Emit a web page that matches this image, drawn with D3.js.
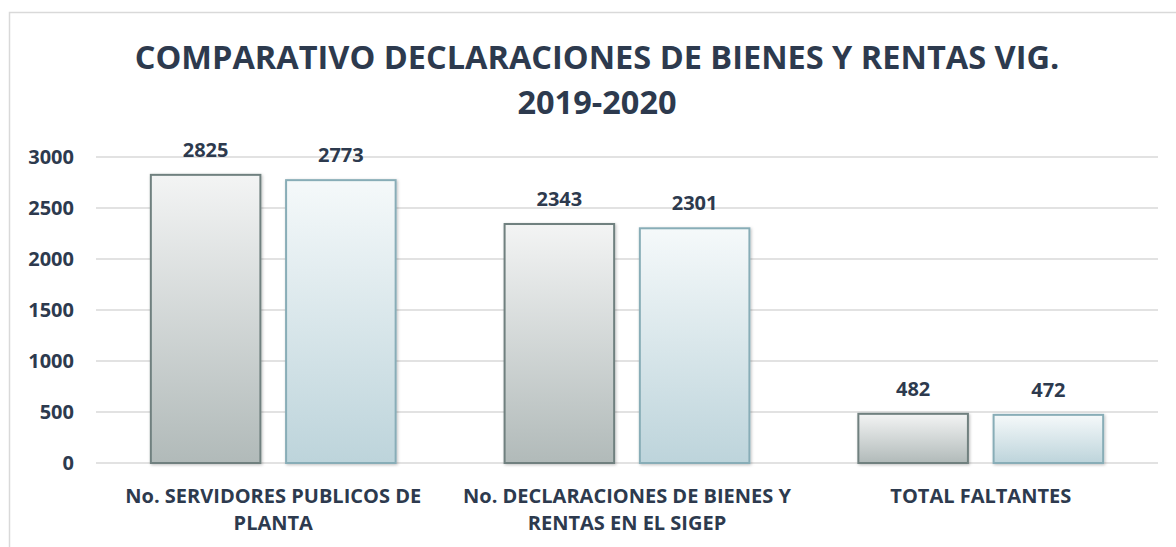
<!DOCTYPE html>
<html>
<head>
<meta charset="utf-8">
<script src="https://cdn.jsdelivr.net/npm/d3@7"></script>
<style>
  body { margin: 0; background: #fff; }
  svg text { font-family: "Open Sans", sans-serif; font-weight: bold; fill: #2d3a4e; }
</style>
</head>
<body>
<svg width="1176" height="547"></svg>
<script>
var svg = d3.select('svg');

// data
var categories = [['No. SERVIDORES PUBLICOS DE', 'PLANTA'],
                  ['No. DECLARACIONES DE BIENES Y', 'RENTAS EN EL SIGEP'],
                  ['TOTAL FALTANTES']];
var years = ['2019', '2020'];
var values2019 = [2825, 2343, 482];
var values2020 = [2773, 2301, 472];
var yTicks = [0, 500, 1000, 1500, 2000, 2500, 3000];
var titleLines = ['COMPARATIVO DECLARACIONES DE BIENES Y RENTAS VIG.', '2019-2020'];

var rows = categories.map(function(c, i) {
    return {label: c, vals: [values2019[i], values2020[i]]};
});

var plot = {l: 96, r: 1158, t: 157, b: 463};

// chart frame
svg.append('rect')
    .attr('x', 9.5).attr('y', 12.5)
    .attr('width', 1200).attr('height', 600)
    .attr('fill', 'none').attr('stroke', '#d9d9d9').attr('stroke-width', 1.5);

var defs = svg.append('defs');
var grads = [['g0', '#f3f4f4', '#b1bab9'], ['g1', '#f5f9fa', '#bdd4db']];
grads.forEach(function(g) {
    var lg = defs.append('linearGradient').attr('id', g[0])
        .attr('x1', 0).attr('y1', 0).attr('x2', 0).attr('y2', 1);
    lg.append('stop').attr('offset', '0%').attr('stop-color', g[1]);
    lg.append('stop').attr('offset', '100%').attr('stop-color', g[2]);
});
var shadow = defs.append('filter').attr('id', 'sh').attr('x', '-10%').attr('y', '-10%')
    .attr('width', '130%').attr('height', '130%');
shadow.append('feDropShadow').attr('dx', 1).attr('dy', 1).attr('stdDeviation', 1.5)
    .attr('flood-color', '#000').attr('flood-opacity', 0.25);

var x0 = d3.scaleBand().domain(d3.range(rows.length))
    .range([plot.l, plot.r]).paddingInner(0.308).paddingOuter(0.155);
var x1 = d3.scaleBand().domain(d3.range(years.length))
    .range([0, x0.bandwidth()]).paddingInner(0.19);
var y = d3.scaleLinear().domain([0, 3000]).range([plot.b, plot.t]);

// gridlines
svg.append('g').selectAll('line')
    .data(yTicks).enter().append('line')
    .attr('x1', plot.l).attr('x2', plot.r)
    .attr('y1', function(d) { return y(d); })
    .attr('y2', function(d) { return y(d); })
    .attr('stroke', '#d9d9d9').attr('stroke-width', 1.5);

// y axis labels
svg.append('g').selectAll('text')
    .data(yTicks).enter().append('text')
    .attr('x', 74).attr('y', function(d) { return y(d) + 7; })
    .attr('text-anchor', 'end')
    .style('font-size', '20px')
    .text(function(d) { return d; });

var strokes = ['#6f807f', '#88adb7'];

var groups = svg.append('g').selectAll('g')
    .data(rows).enter().append('g')
    .attr('transform', function(d, i) { return 'translate(' + x0(i) + ',0)'; });

groups.selectAll('rect')
    .data(function(d) { return d.vals; })
    .enter().append('rect')
    .attr('x', function(d, i) { return x1(i); })
    .attr('y', function(d) { return y(d); })
    .attr('width', x1.bandwidth())
    .attr('height', function(d) { return y(0) - y(d); })
    .attr('fill', function(d, i) { return 'url(#g' + i + ')'; })
    .attr('stroke', function(d, i) { return strokes[i]; })
    .attr('stroke-width', 2)
    .attr('filter', 'url(#sh)');

groups.selectAll('.val')
    .data(function(d) { return d.vals; })
    .enter().append('text')
    .attr('class', 'val')
    .attr('x', function(d, i) { return x1(i) + x1.bandwidth() / 2; })
    .attr('y', function(d) { return y(d) - 18; })
    .attr('text-anchor', 'middle')
    .style('font-size', '20px')
    .text(function(d) { return d; });

// category labels
groups.each(function(d) {
    var t = d3.select(this).append('text')
        .attr('text-anchor', 'middle')
        .style('font-size', '20px');
    d.label.forEach(function(line, k) {
        t.append('tspan')
            .attr('x', x0.bandwidth() / 2)
            .attr('y', 503 + k * 27)
            .text(line);
    });
});

// title
svg.append('g').selectAll('text')
    .data(titleLines).enter().append('text')
    .attr('x', 597).attr('y', function(d, i) { return 69 + i * 45; })
    .attr('text-anchor', 'middle')
    .style('font-size', '32.5px')
    .text(function(d) { return d; });
</script>
</body>
</html>
